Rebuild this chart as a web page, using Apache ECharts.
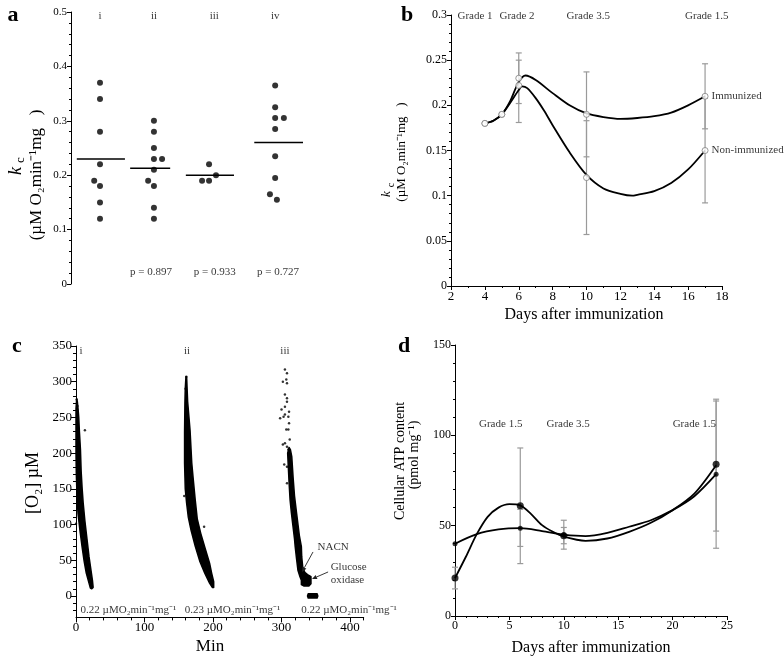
<!DOCTYPE html>
<html><head><meta charset="utf-8">
<script src="https://cdn.jsdelivr.net/npm/echarts@6/dist/echarts.min.js"></script>
<style>html,body{margin:0;padding:0;background:#fff}#c{width:784px;height:658px}</style>
</head><body><div id="c"></div>
<script>
// ================= DATA =================
// Panel a : k_c per group
const aGroupNames = ['i', 'ii', 'iii', 'iv'];
const aGroupI   = [0.37, 0.34, 0.28, 0.22, 0.19, 0.18, 0.15, 0.12];
const aJitterI  = [0, 0, 0, 0, -0.1, 0, 0, 0];
const aGroupII  = [0.30, 0.28, 0.25, 0.23, 0.23, 0.21, 0.19, 0.18, 0.14, 0.12];
const aJitterII = [-0.07, -0.07, -0.07, -0.07, 0.07, -0.07, -0.17, -0.07, -0.07, -0.07];
const aGroupIII = [0.22, 0.20, 0.19, 0.19];
const aJitterIII= [-0.12, 0, -0.24, -0.12];
const aGroupIV  = [0.365, 0.325, 0.305, 0.305, 0.285, 0.235, 0.195, 0.165, 0.155];
const aJitterIV = [0.02, 0.02, 0.02, 0.17, 0.02, 0.02, 0.02, -0.07, 0.05];
const aMeans     = [0.23, 0.213, 0.20, 0.26];
const aMeanLeft  = [-0.40, -0.48, -0.52, -0.34];
const aMeanRight = [0.43, 0.21, 0.31, 0.50];
const aRomanX = [1, 1.93, 2.97, 4.02];
const aPText  = ['p = 0.897', 'p = 0.933', 'p = 0.727'];
const aPX     = [1.88, 2.98, 4.07];

// Panel b : k_c vs days
const bDays          = [4, 5, 6, 10, 17];
const bImmunized     = [0.18, 0.19, 0.23, 0.19, 0.21];
const bNonImmunized  = [0.18, 0.19, 0.222, 0.12, 0.15];
const bErrDays       = [6, 10, 17];
const bImmLow        = [0.202, 0.143, 0.174];
const bImmHigh       = [0.258, 0.237, 0.246];
const bNonLow        = [0.181, 0.057, 0.092];
const bNonHigh       = [0.25, 0.183, 0.208];
const bImmCurveX     = [4, 4.5, 5, 5.5, 6, 6.4, 7, 8, 9, 10, 11, 12, 13, 14, 15, 16, 17];
const bImmCurveY     = [0.18, 0.183, 0.19, 0.205, 0.226, 0.233, 0.228, 0.2135, 0.2, 0.191, 0.187, 0.185, 0.186, 0.188, 0.192, 0.2, 0.21];
const bNonCurveX     = [4, 4.5, 5, 5.5, 6, 6.2, 6.5, 7, 7.5, 8, 9, 10, 11, 12, 12.7, 13, 14, 15, 16, 17];
const bNonCurveY     = [0.18, 0.183, 0.19, 0.203, 0.217, 0.221, 0.219, 0.208, 0.194, 0.178, 0.148, 0.123, 0.108, 0.102, 0.1, 0.101, 0.105, 0.114, 0.129, 0.15];
const bGradeNames    = ['Grade 1', 'Grade 2', 'Grade 3.5', 'Grade 1.5'];
const bGradeX        = [3.42, 5.9, 10.1, 17.1];

// Panel c : [O2] traces (outlines of the dense point clouds) and sparse points
const cBandI = [[1,276],[0,262],[0,230],[0,200],[0.5,170],[1.5,140],[3,115],[6,90],[9,68],[12,48],[15,32],[19,18],[21,11],[23,10],[25,12],
  [24,22],[22,35],[19,55],[16,80],[13,105],[10.5,130],[9,150],[7.5,175],[6.5,205],[5,230],[4,250],[3,262],[2,272]];
const cBandII = [[160.5,307],[159.5,290],[159,270],[158.5,230],[158.5,186],[159.5,150],[161.5,130],[164,110],[168,92],[174,70],[181,48],[188,32],[195,18],[199,12],[201,12],
  [201,20],[198,32],[195,46],[189,65],[182,88],[177,108],[174,135],[171,165],[169,186],[166.5,232],[163,272],[162,295],[161.5,307]];
const cBandIII = [[309,200],[310,180],[311,160],[312.5,135],[314.5,116],[316.5,100],[319,80],[320,69],[322,52],[324,36],[327,27],[329,22],[329,16],[333,14],[340,14],[343,17],
  [343,27],[338,30],[334,33],[331,40],[329.5,55],[329,69],[326,85],[322,116],[319,140],[317,165],[315,195],[313,205],[311,208]];
const cBandGlucose = [[339,-3],[352,-3],[353,0],[352,3],[339,3],[338,0]];
const cSparseX = [13, 0, 1, 2, 187, 161, 160, 158, 305, 308, 307, 302, 308, 305, 308, 308, 303, 298, 305, 310, 311, 307, 310, 302, 305, 308, 310, 304, 308, 312, 311, 308, 305, 300];
const cSparseY = [232, 101, 275, 266, 97, 307, 290, 140, 317, 312, 303, 300, 298, 282, 277, 272, 251, 249, 254, 251, 258, 233, 233, 212, 214, 209, 205, 184, 181, 219, 242, 158, 265, 261];
const cRunNames = ['i', 'ii', 'iii'];
const cRunX     = [7.3, 162, 305];
const cRateText = ['0.22 µMO₂min⁻¹mg⁻¹', '0.23 µMO₂min⁻¹mg⁻¹', '0.22 µMO₂min⁻¹mg⁻¹'];
const cRateX    = [6, 158, 328];
const cXTicks   = [0, 100, 200, 300, 400];
const cXMinor   = [20, 40, 60, 80, 120, 140, 160, 180, 220, 240, 260, 280, 320, 340, 360, 380, 420];
const cYTicks   = [0, 50, 100, 150, 200, 250, 300, 350];
const cYMinor   = [-20, -10, 10, 20, 30, 40, 60, 70, 80, 90, 110, 120, 130, 140, 160, 170, 180, 190, 210, 220, 230, 240, 260, 270, 280, 290, 310, 320, 330, 340];
const cArrows   = [[346, 61.6, 330, 33.6], [368, 33.6, 344.5, 23.8]];
const cNotes    = ['NACN', 'Glucose\noxidase'];
const cNoteX    = [352, 371];
const cNoteY    = [68.6, 31.5];

// Panel d : ATP content vs days
const dDays     = [0, 6, 10, 24];
const dSeriesA  = [21, 61, 44.4, 84];
const dSeriesB  = [40, 48.6, 45, 78.5];
const dErrALow  = [15, 29, 37, 47];
const dErrAHigh = [27, 93, 53, 120];
const dErrBDays = [6, 10, 24];
const dErrBLow  = [38.5, 40, 37.5];
const dErrBHigh = [59, 49, 119];
const dCurveAX  = [0, 1, 2, 3, 4, 5, 6, 7, 8, 9, 10, 12, 14, 16, 18, 20, 22, 24];
const dCurveAY  = [21, 32.8, 45.3, 54.9, 60, 61.9, 61.2, 56.4, 50.3, 46.6, 43.9, 41.6, 42.9, 46.6, 51.6, 58.6, 67.8, 83.5];
const dCurveBX  = [0, 2, 4, 6, 8, 10, 12, 14, 16, 18, 20, 22, 24];
const dCurveBY  = [40, 45.3, 47.9, 48.6, 47, 45, 44.2, 46, 49.4, 53, 58.6, 66.3, 78.5];
const dGradeNames = ['Grade 1.5', 'Grade 3.5', 'Grade 1.5'];
const dGradeX     = [4.2, 10.4, 22];

// ================= BUILD =================
const F = '"Liberation Serif", "Times New Roman", serif';
const BLACK = '#000';

function valAxis(o) {
  const ax = {
    type: 'value', splitLine: {show: false}, minorSplitLine: {show: false},
    axisLine: {show: true, onZero: false, lineStyle: {color: BLACK, width: 1}},
    axisTick: {show: true, inside: false, length: 4, lineStyle: {color: BLACK, width: 1}},
    minorTick: {show: true, length: 2, splitNumber: 5, lineStyle: {color: BLACK, width: 1}},
    axisLabel: {color: BLACK, fontFamily: F, fontSize: 12, margin: 4, hideOverlap: false}
  };
  for (const k in o) {
    if (o[k] && typeof o[k] === 'object' && !Array.isArray(o[k]) && ax[k]) ax[k] = Object.assign({}, ax[k], o[k]);
    else ax[k] = o[k];
  }
  return ax;
}

function textSeries(xi, yi, data, lbl) {
  return {
    type: 'scatter', xAxisIndex: xi, yAxisIndex: yi, symbolSize: 1, silent: true, z: 6,
    itemStyle: {color: 'rgba(0,0,0,0)'},
    label: Object.assign({show: true, position: 'inside', formatter: '{b}', color: BLACK, fontFamily: F, fontSize: 11}, lbl),
    data: data
  };
}

function errSeries(xi, yi, days, lows, highs, cap) {
  return {
    type: 'custom', xAxisIndex: xi, yAxisIndex: yi, silent: true, z: 1,
    data: days.map((d, i) => [d, lows[i], highs[i]]),
    encode: {x: 0, y: [1, 2]},
    renderItem: (p, api) => {
      const x = api.value(0);
      const a = api.coord([x, api.value(1)]), b = api.coord([x, api.value(2)]);
      const st = {stroke: '#9a9a9a', lineWidth: 1.2};
      return {type: 'group', children: [
        {type: 'line', shape: {x1: a[0], y1: a[1], x2: b[0], y2: b[1]}, style: st},
        {type: 'line', shape: {x1: a[0] - cap, y1: a[1], x2: a[0] + cap, y2: a[1]}, style: st},
        {type: 'line', shape: {x1: b[0] - cap, y1: b[1], x2: b[0] + cap, y2: b[1]}, style: st}
      ]};
    }
  };
}

function polySeries(pts, xi, yi) {
  return {
    type: 'custom', xAxisIndex: xi, yAxisIndex: yi, silent: true, z: 3,
    data: pts, encode: {x: 0, y: 1},
    renderItem: (p, api) => p.dataIndex === 0 ? {
      type: 'polygon', shape: {points: pts.map(q => api.coord(q))},
      style: {fill: BLACK, stroke: BLACK, lineWidth: 1.5, lineJoin: 'round'}
    } : null
  };
}

const series = [];

// ---- Panel a ----
const aGroups = [aGroupI, aGroupII, aGroupIII, aGroupIV];
const aJit = [aJitterI, aJitterII, aJitterIII, aJitterIV];
aGroups.forEach((vals, gi) => {
  series.push({
    type: 'scatter', xAxisIndex: 0, yAxisIndex: 0, symbolSize: 6, silent: true, z: 4,
    itemStyle: {color: BLACK},
    data: vals.map((v, k) => [gi + 1 + aJit[gi][k], v])
  });
});
series.push({
  type: 'custom', xAxisIndex: 0, yAxisIndex: 0, silent: true,
  data: aMeans.map((m, gi) => [gi + 1, m, aMeanLeft[gi], aMeanRight[gi]]),
  encode: {x: 0, y: 1},
  renderItem: (p, api) => {
    const g = api.value(0), m = api.value(1);
    const a = api.coord([g + api.value(2), m]), b = api.coord([g + api.value(3), m]);
    return {type: 'line', shape: {x1: a[0], y1: a[1], x2: b[0], y2: b[1]}, style: {stroke: BLACK, lineWidth: 1.5}};
  }
});
series.push(textSeries(0, 0, aRomanX.map((x, i) => ({value: [x, 0.492], name: aGroupNames[i]})), {fontSize: 11}));
series.push(textSeries(0, 0, aPX.map((x, i) => ({value: [x, 0.022], name: aPText[i]})), {fontSize: 11}));

// ---- Panel b ----
series.push(errSeries(1, 1, bErrDays, bImmLow, bImmHigh, 3));
series.push(errSeries(1, 1, bErrDays, bNonLow, bNonHigh, 3));
series.push({type: 'line', xAxisIndex: 1, yAxisIndex: 1, smooth: 0.3, symbol: 'none', silent: true, z: 2,
  lineStyle: {color: BLACK, width: 1.8}, data: bImmCurveX.map((x, i) => [x, bImmCurveY[i]])});
series.push({type: 'line', xAxisIndex: 1, yAxisIndex: 1, smooth: 0.3, symbol: 'none', silent: true, z: 2,
  lineStyle: {color: BLACK, width: 1.8}, data: bNonCurveX.map((x, i) => [x, bNonCurveY[i]])});
[[bImmunized, 'Immunized'], [bNonImmunized, 'Non-immunized']].forEach(([vals, nm]) => {
  series.push({
    type: 'scatter', xAxisIndex: 1, yAxisIndex: 1, symbol: 'circle', symbolSize: 6, silent: true, z: 5,
    itemStyle: {color: '#fff', borderColor: '#808080', borderWidth: 1},
    data: bDays.map((d, i) => ({
      value: [d, vals[i]],
      label: i === bDays.length - 1 ? {show: true, position: 'right', distance: 3, formatter: nm, color: BLACK, fontFamily: F, fontSize: 11} : {show: false}
    }))
  });
});
series.push(textSeries(1, 1, bGradeX.map((x, i) => ({value: [x, 0.2985], name: bGradeNames[i]})), {fontSize: 11}));

// ---- Panel c ----
[cBandI, cBandII, cBandIII, cBandGlucose].forEach(b => series.push(polySeries(b, 2, 2)));
series.push({type: 'scatter', xAxisIndex: 2, yAxisIndex: 2, symbolSize: 2.5, silent: true, z: 4,
  itemStyle: {color: BLACK}, data: cSparseX.map((x, i) => [x, cSparseY[i]])});
series.push(textSeries(2, 2, cRunX.map((x, i) => ({value: [x, 343], name: cRunNames[i]})), {fontSize: 11}));
series.push(textSeries(2, 2, cRateX.map((x, i) => ({value: [x, -19.6], name: cRateText[i]})), {fontSize: 11, position: 'right', distance: 0}));
series.push(textSeries(2, 2, cNoteX.map((x, i) => ({value: [x, cNoteY[i]], name: cNotes[i]})), {fontSize: 11, position: 'right', distance: 0, lineHeight: 13}));
series.push({
  type: 'custom', xAxisIndex: 2, yAxisIndex: 2, silent: true, z: 5,
  data: cArrows, encode: {x: [0, 2], y: [1, 3]},
  renderItem: (p, api) => {
    const a = api.coord([api.value(0), api.value(1)]), b = api.coord([api.value(2), api.value(3)]);
    const dx = b[0] - a[0], dy = b[1] - a[1], L = Math.hypot(dx, dy), ux = dx / L, uy = dy / L;
    const h = 5, w = 2.2;
    const bx = b[0] - ux * h, by = b[1] - uy * h;
    return {type: 'group', children: [
      {type: 'line', shape: {x1: a[0], y1: a[1], x2: bx, y2: by}, style: {stroke: '#222', lineWidth: 0.9}},
      {type: 'polygon', shape: {points: [[b[0], b[1]], [bx - uy * w, by + ux * w], [bx + uy * w, by - ux * w]]}, style: {fill: '#222'}}
    ]};
  }
});

// ---- Panel d ----
series.push(errSeries(4, 4, dDays, dErrALow, dErrAHigh, 3));
series.push(errSeries(4, 4, dErrBDays, dErrBLow, dErrBHigh, 3));
series.push({type: 'line', xAxisIndex: 4, yAxisIndex: 4, smooth: 0.3, symbol: 'none', silent: true, z: 2,
  lineStyle: {color: BLACK, width: 1.8}, data: dCurveAX.map((x, i) => [x, dCurveAY[i]])});
series.push({type: 'line', xAxisIndex: 4, yAxisIndex: 4, smooth: 0.3, symbol: 'none', silent: true, z: 2,
  lineStyle: {color: BLACK, width: 1.8}, data: dCurveBX.map((x, i) => [x, dCurveBY[i]])});
series.push({type: 'scatter', xAxisIndex: 4, yAxisIndex: 4, symbolSize: 7, silent: true, z: 5,
  itemStyle: {color: BLACK}, data: dDays.map((d, i) => [d, dSeriesA[i]])});
series.push({type: 'scatter', xAxisIndex: 4, yAxisIndex: 4, symbolSize: 5, silent: true, z: 5,
  itemStyle: {color: BLACK}, data: dDays.map((d, i) => [d, dSeriesB[i]])});
series.push(textSeries(4, 4, dGradeX.map((x, i) => ({value: [x, 106], name: dGradeNames[i]})), {fontSize: 11}));

// ---- Axes ----
const grid = [
  {left: 71, top: 12, width: 243.6, height: 272},
  {left: 451, top: 15, width: 271, height: 271},
  {left: 76, top: 346, width: 287.7, height: 271.4},
  {left: 455, top: 345, width: 272, height: 271}
].map(g => Object.assign({outerBoundsMode: 'none', containLabel: false}, g));

const xAxis = [
  {gridIndex: 0, type: 'value', min: 0.5, max: 4.7, show: false},
  valAxis({gridIndex: 1, min: 2, max: 18, interval: 2, minorTick: {splitNumber: 2}, axisLabel: {fontSize: 13}}),
  valAxis({gridIndex: 2, min: 0, max: 420, position: 'bottom', minorTick: {show: false},
    axisTick: {customValues: cXTicks, length: 5}, axisLabel: {customValues: cXTicks, fontSize: 13}}),
  valAxis({gridIndex: 2, min: 0, max: 420, position: 'bottom', minorTick: {show: false},
    axisLine: {show: false}, axisTick: {customValues: cXMinor, length: 3}, axisLabel: {show: false}}),
  valAxis({gridIndex: 3, min: 0, max: 25, interval: 5, minorTick: {splitNumber: 5}, axisLabel: {fontSize: 12}})
];
const yAxis = [
  valAxis({gridIndex: 0, min: 0, max: 0.5, interval: 0.1, minorTick: {splitNumber: 5}, axisLabel: {fontSize: 11}}),
  valAxis({gridIndex: 1, min: 0, max: 0.3, interval: 0.05, minorTick: {splitNumber: 5}, axisLabel: {fontSize: 12}}),
  valAxis({gridIndex: 2, min: -30, max: 350, position: 'left', minorTick: {show: false},
    axisTick: {customValues: cYTicks, length: 5}, axisLabel: {customValues: cYTicks, fontSize: 13}}),
  valAxis({gridIndex: 2, min: -30, max: 350, position: 'left', minorTick: {show: false},
    axisLine: {show: false}, axisTick: {customValues: cYMinor, length: 3}, axisLabel: {show: false}}),
  valAxis({gridIndex: 3, min: 0, max: 150, interval: 50, minorTick: {splitNumber: 5}, axisLabel: {fontSize: 12}})
];

// ---- Titles / axis names ----
function txt(x, y, text, size, extra, rot) {
  return {type: 'text', x: x, y: y, rotation: rot ? Math.PI / 2 : 0, z: 100, silent: true,
    style: Object.assign({text: text, fill: BLACK, fontFamily: F, fontSize: size, align: 'center', verticalAlign: 'middle'}, extra || {})};
}
const graphic = [
  txt(13, 15, 'a', 22, {fontWeight: 'bold'}),
  txt(407, 15, 'b', 22, {fontWeight: 'bold'}),
  txt(17, 346, 'c', 22, {fontWeight: 'bold'}),
  txt(404, 346, 'd', 22, {fontWeight: 'bold'}),
  // panel a y name
  txt(16, 171, 'k', 18, {fontStyle: 'italic'}, true),
  txt(21, 160, 'c', 13, {}, true),
  txt(37, 175, '(µM O₂min⁻¹mg   )', 17, {}, true),
  // panel b y name
  txt(387, 194, 'k', 13, {fontStyle: 'italic'}, true),
  txt(391, 185, 'c', 10, {}, true),
  txt(402, 152, '(µM O₂min⁻¹mg   )', 13, {}, true),
  txt(584, 315, 'Days after immunization', 16),
  // panel c
  txt(33, 483, '[O₂] µM', 18, {}, true),
  txt(210, 647, 'Min', 17),
  // panel d
  txt(400, 461, 'Cellular ATP content', 14, {}, true),
  txt(414, 455, '(pmol mg⁻¹)', 14, {}, true),
  txt(591, 648, 'Days after immunization', 16)
];

const chart = echarts.init(document.getElementById('c'), null, {renderer: 'canvas'});
chart.setOption({
  animation: false, backgroundColor: '#fff',
  textStyle: {fontFamily: F},
  grid: grid, xAxis: xAxis, yAxis: yAxis, series: series, graphic: graphic
});
</script></body></html>
